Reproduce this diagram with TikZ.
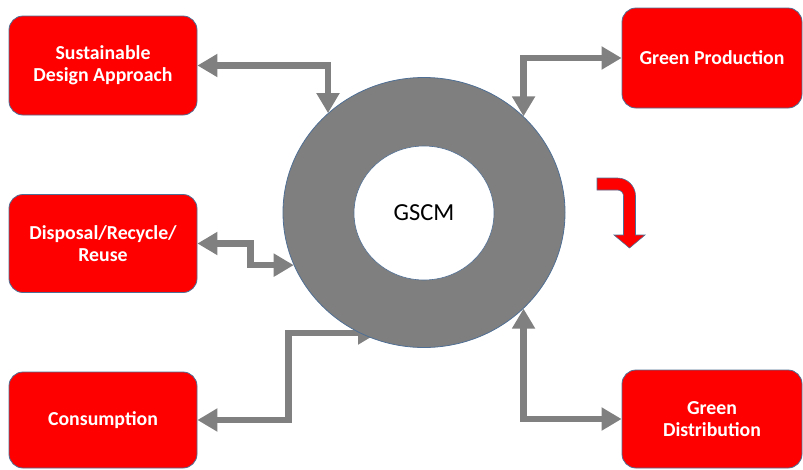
\documentclass[tikz,border=0pt]{standalone}
\usepackage{fontspec}
\setmainfont{Carlito}
\usetikzlibrary{arrows.meta,shapes.geometric}
\definecolor{boxred}{HTML}{FF0000}
\definecolor{ringgray}{HTML}{7F7F7F}
\definecolor{edgeblue}{HTML}{4F6F94}
\definecolor{arrowgray}{HTML}{808080}
\pgfdeclarelayer{bg}
\pgfsetlayers{bg,main}
\tikzset{
  box/.style={rectangle, rounded corners=14pt, fill=boxred, draw=edgeblue,
    line width=0.8pt, text=white, align=center, inner sep=0pt,
    font=\bfseries\fontsize{19.8}{22}\selectfont},
  conn/.style={draw=arrowgray, line width=6.5pt, line join=miter,
    {Triangle[length=20pt,width=22pt]}-{Triangle[length=20pt,width=22pt]}},
}
\begin{document}
\begin{tikzpicture}[x=1pt,y=-1pt]
\useasboundingbox (0,0) rectangle (803,469);

% outer boxes
\node[box, minimum width=188, minimum height=99] (sda) at (103,65.5) {Sustainable\\Design Approach};
\node[box, minimum width=188, minimum height=98] (dis) at (103,243.5) {Disposal/Recycle/\\Reuse};
\node[box, minimum width=188, minimum height=96] (con) at (103,420) {Consumption};
\node[box, minimum width=180, minimum height=100] (gp) at (712,58) {Green Production};
\node[box, minimum width=180, minimum height=98] (gd) at (712,419) {Green\\Distribution};

% central ring
\node[ellipse, minimum width=282, minimum height=270, inner sep=0pt,
      fill=ringgray, draw=edgeblue, line width=0.8pt] (ring) at (424,212.5) {};
\node[ellipse, minimum width=140, minimum height=134, inner sep=0pt,
      fill=white, draw=edgeblue, line width=0.6pt,
      font=\fontsize{24.5}{28}\selectfont] (core) at (424,213) {GSCM};

\coordinate (contip) at (378,333);

% connectors, drawn beneath the ring
\begin{pgfonlayer}{bg}
\draw[conn] (sda.east) -| (ring.134.6);
\draw[conn] (ring.44) |- (gp.west);
\draw[conn] (dis.east) -- ++(53,0) |- (ring.202.5);
\draw[conn] (con.east) -- ++(91,0) |- (contip);
\draw[conn] (ring.316) |- (gd.west);
\end{pgfonlayer}

% red bent arrow
\fill[boxred, draw=edgeblue, line width=0.6pt]
  (597,178) -- (617.5,178)
  .. controls (627.4,178) and (635.5,186.1) .. (635.5,196)
  -- (635.5,235) -- (645,235) -- (629.5,248) -- (614,235) -- (623.5,235)
  -- (623.5,196)
  .. controls (623.5,192.7) and (620.8,190) .. (617.5,190)
  -- (597,190) -- cycle;
\end{tikzpicture}
\end{document}
